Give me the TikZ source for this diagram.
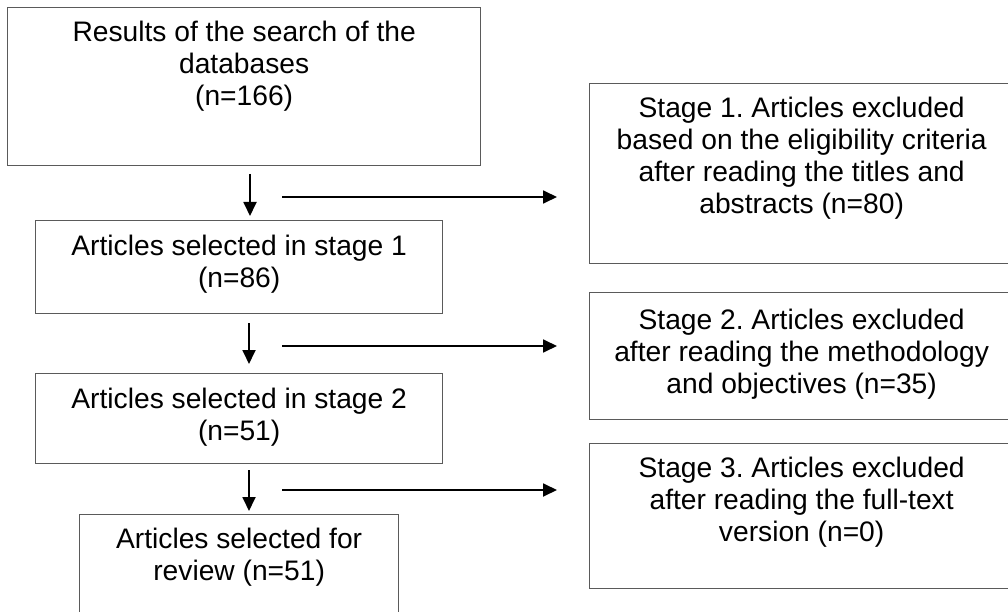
\documentclass[tikz,border=0pt]{standalone}
\usepackage{fontspec}
\setmainfont{Liberation Sans}
\usetikzlibrary{arrows.meta}

\tikzset{every picture/.style={line width=0.75pt}}
\tikzset{
  box/.style={draw={rgb,255:red,90;green,90;blue,90}, line width=1.3pt, rectangle, inner sep=0pt, anchor=north west},
  boxtext/.style={anchor=base, inner sep=0.75pt, align=center, font=\fontsize{28.2}{32}\selectfont\frenchspacing},
  flowarrow/.style={draw=black, line width=1.8pt, -{Triangle[length=14pt,width=13pt]}}
}

\begin{document}
\begin{tikzpicture}[x=1pt,y=1pt,yscale=-1,xscale=1]
		\useasboundingbox (0,0) rectangle (1008,612);
		\clip (0,0) rectangle (1008,612);

		%Shape: Rectangle [left column]
		\node [box, minimum width=473pt, minimum height=158pt] (results) at (7,7) {};
		\node [box, minimum width=407pt, minimum height=93pt] (stageOne) at (35,220) {};
		\node [box, minimum width=407pt, minimum height=90pt] (stageTwo) at (35,373) {};
		\node [box, minimum width=319pt, minimum height=110pt] (review) at (79,514) {};

		%Shape: Rectangle [right column]
		\node [box, minimum width=424pt, minimum height=180pt] (exclOne) at (589,83) {};
		\node [box, minimum width=424pt, minimum height=127pt] (exclTwo) at (589,292) {};
		\node [box, minimum width=424pt, minimum height=145pt] (exclThree) at (589,443) {};

		% Text Node (base = last line, shift is down because of yscale=-1)
		\node [boxtext] (resultsText) at ([yshift=99pt]results.north) {Results of the search of the\\databases\\(n=166)};
		% Text Node
		\node [boxtext] (stageOneText) at ([yshift=67pt]stageOne.north) {Articles selected in stage 1\\(n=86)};
		% Text Node
		\node [boxtext] (stageTwoText) at ([yshift=67pt]stageTwo.north) {Articles selected in stage 2\\(n=51)};
		% Text Node
		\node [boxtext] (reviewText) at ([yshift=66pt]review.north) {Articles selected for\\review (n=51)};
		% Text Node
		\node [boxtext] (exclOneText) at ([yshift=131pt]exclOne.north) {Stage 1. Articles excluded\\based on the eligibility criteria\\after reading the titles and\\abstracts (n=80)};
		% Text Node
		\node [boxtext] (exclTwoText) at ([yshift=101pt]exclTwo.north) {Stage 2. Articles excluded\\after reading the methodology\\and objectives (n=35)};
		% Text Node
		\node [boxtext] (exclThreeText) at ([yshift=98pt]exclThree.north) {Stage 3. Articles excluded\\after reading the full-text\\version (n=0)};

		%Straight Lines [arrow ends]
		\coordinate (downOneTop) at (250,174);
		\coordinate (downOneEnd) at (250,216);
		\coordinate (sideOneStart) at (282,197);
		\coordinate (sideOneEnd) at (557,197);
		\coordinate (downTwoTop) at (249,323);
		\coordinate (downTwoEnd) at (249,364);
		\coordinate (sideTwoStart) at (282,346);
		\coordinate (sideTwoEnd) at (557,346);
		\coordinate (downThreeTop) at (249,470);
		\coordinate (downThreeEnd) at (249,511);
		\coordinate (sideThreeStart) at (282,490);
		\coordinate (sideThreeEnd) at (557,490);

		%Straight Lines
		\draw [flowarrow] (downOneTop) -- (downOneEnd);
		\draw [flowarrow] (sideOneStart) -- (sideOneEnd);
		\draw [flowarrow] (downTwoTop) -- (downTwoEnd);
		\draw [flowarrow] (sideTwoStart) -- (sideTwoEnd);
		\draw [flowarrow] (downThreeTop) -- (downThreeEnd);
		\draw [flowarrow] (sideThreeStart) -- (sideThreeEnd);

	\end{tikzpicture}
\end{document}
